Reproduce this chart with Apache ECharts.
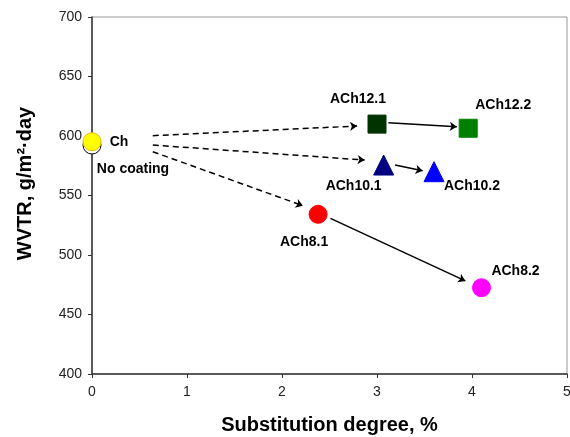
<!DOCTYPE html>
<html>
<head>
<meta charset="utf-8">
<script src="https://cdn.jsdelivr.net/npm/echarts@6/dist/echarts.min.js"></script>
<style>
  html, body { margin: 0; padding: 0; background: #fff; }
  #chart { width: 570px; height: 437px; }
</style>
</head>
<body>
<div id="chart"></div>
<script>
// samples: substitution degree (%) and WVTR (g/m2.day)
const names = ['No coating', 'Ch', 'ACh12.1', 'ACh12.2', 'ACh10.1', 'ACh10.2', 'ACh8.1', 'ACh8.2'];
const subDegree = [0, 0, 3.0, 3.96, 3.07, 3.6, 2.38, 4.1];
const wvtr = [592.4, 595.2, 610, 606.5, 575.6, 570, 534.2, 472.5];

// arrows between samples, [from, to] in data units
const dashedArrows = [
  [[0.64, 600.3], [2.79, 608.4]],
  [[0.64, 592.4], [2.87, 579.8]],
  [[0.64, 586.8], [2.22, 541.4]]
];
const solidArrows = [
  [[3.12, 611.2], [3.84, 607.8]],
  [[3.19, 575.6], [3.48, 570.8]],
  [[2.51, 530.8], [3.93, 478.2]]
];

const xTicks = [0, 1, 2, 3, 4, 5];

const looks = {
  'No coating': { symbol: 'circle', size: 18, color: '#ffffff', border: '#000000', offset: [41, 24] },
  'Ch':        { symbol: 'circle', size: 18, color: '#ffff00', border: '#f2b400', offset: [27, 0] },
  'ACh12.1':   { symbol: 'rect', size: 18, color: '#003300', border: '#003300', offset: [-19, -25] },
  'ACh12.2':   { symbol: 'rect', size: 18, color: '#008000', border: '#008000', offset: [35, -23] },
  'ACh10.1':   { symbol: 'triangle', size: 20, color: '#000080', border: '#000080', offset: [-30, 21] },
  'ACh10.2':   { symbol: 'triangle', size: 20, color: '#0000ff', border: '#0000ff', offset: [38, 14] },
  'ACh8.1':    { symbol: 'circle', size: 18, color: '#ff0000', border: '#ff0000', offset: [-14, 28] },
  'ACh8.2':    { symbol: 'circle', size: 18, color: '#ff00ff', border: '#ff00ff', offset: [34, -17] }
};

const font = 'Liberation Sans, Arial, sans-serif';

const arrowSeries = (list, type) => ({
  type: 'lines',
  coordinateSystem: 'cartesian2d',
  symbol: ['none', 'arrow'],
  symbolSize: 7,
  silent: true,
  z: 1,
  lineStyle: { color: '#000', width: 1.5, type: type === 'dashed' ? [6, 4] : type, opacity: 1, curveness: 0 },
  data: list.map(c => ({ coords: c }))
});

const pointSeries = names.map((n, i) => {
  const s = looks[n];
  return {
    name: n,
    type: 'scatter',
    z: 3,
    symbol: s.symbol,
    symbolSize: s.size,
    itemStyle: { color: s.color, borderColor: s.border, borderWidth: 1, opacity: 1 },
    label: {
      show: true,
      position: 'inside',
      offset: s.offset,
      formatter: n,
      color: '#000',
      fontFamily: font,
      fontWeight: 'bold',
      fontSize: 14
    },
    data: [[subDegree[i], wvtr[i]]]
  };
});

const chart = echarts.init(document.getElementById('chart'));
chart.setOption({
  animation: false,
  backgroundColor: '#fff',
  grid: {
    left: 92, right: 3, top: 17, bottom: 63,
    outerBoundsMode: 'none',
    show: true, borderColor: '#999', borderWidth: 1
  },
  xAxis: {
    type: 'value',
    min: 0, max: 5, interval: 1,
    name: 'Substitution degree, %',
    nameLocation: 'middle',
    nameGap: 41,
    nameTextStyle: { fontFamily: font, fontWeight: 'bold', fontSize: 20, color: '#000' },
    axisLine: { show: true, lineStyle: { color: '#333', width: 1.5 } },
    axisTick: { show: true, length: 4, lineStyle: { color: '#333' } },
    axisLabel: {
      margin: 11, fontFamily: font, fontSize: 14, color: '#222',
      formatter: v => xTicks.includes(v) ? String(v) : ''
    },
    splitLine: { show: false }
  },
  yAxis: {
    type: 'value',
    min: 400, max: 700, interval: 50,
    name: 'WVTR, g/m²·day',
    nameLocation: 'middle',
    nameGap: 57,
    nameTextStyle: { fontFamily: font, fontWeight: 'bold', fontSize: 20, color: '#000', padding: [0, 0, 0, 24] },
    axisLine: { show: true, lineStyle: { color: '#333', width: 1.5 } },
    axisTick: { show: true, length: 4, lineStyle: { color: '#333' } },
    axisLabel: { margin: 10, fontFamily: font, fontSize: 14, color: '#222' },
    splitLine: { show: false }
  },
  series: [
    arrowSeries(dashedArrows, 'dashed'),
    arrowSeries(solidArrows, 'solid'),
    ...pointSeries
  ]
});
</script>
</body>
</html>
